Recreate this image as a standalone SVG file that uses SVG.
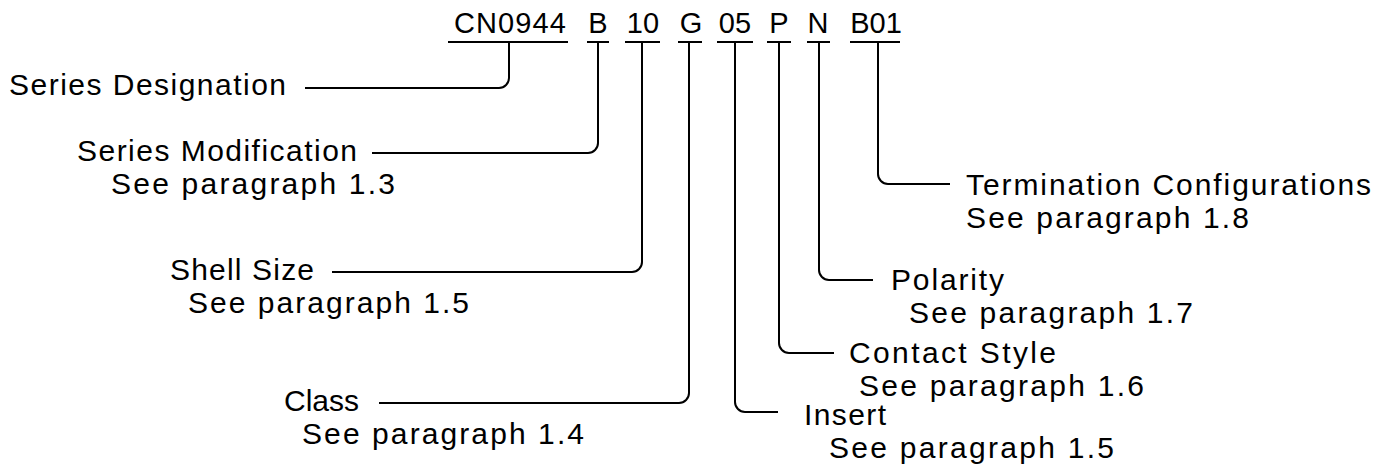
<svg xmlns="http://www.w3.org/2000/svg" width="1386" height="469" viewBox="0 0 1386 469">
<style>
text{font-family:"Liberation Sans",Arial,sans-serif;font-size:30px;fill:#000}
.top{font-size:29px}
.c{text-anchor:middle}
.ln{fill:none;stroke:#000;stroke-width:2;stroke-linecap:butt}
</style>
<rect width="1386" height="469" fill="#fff"/>
<g id="code">
<text class="top" x="454" y="33" textLength="112" lengthAdjust="spacing">CN0944</text>
<text class="top c" x="598" y="33">B</text>
<text class="top c" x="643" y="33">10</text>
<text class="top c" x="691" y="33">G</text>
<text class="top c" x="735" y="33">05</text>
<text class="top c" x="779" y="33">P</text>
<text class="top c" x="818" y="33">N</text>
<text class="top c" x="876" y="33">B01</text>
<path class="ln" d="M448 42H568M587 42H609M625 42H660M678 42H702M717 42H753M767 42H791M807 42H830M850 42H900"/>
</g>
<g id="connectors">
<path class="ln" d="M305 88H499A10 10 0 0 0 509 78V42"/>
<path class="ln" d="M372 153H588A10 10 0 0 0 598 143V42"/>
<path class="ln" d="M332 272H632A10 10 0 0 0 642 262V42"/>
<path class="ln" d="M379 403H679A10 10 0 0 0 689 393V42"/>
<path class="ln" d="M735 42V402A10 10 0 0 0 745 412H778"/>
<path class="ln" d="M779 42V343A10 10 0 0 0 789 353H834"/>
<path class="ln" d="M819 42V270A10 10 0 0 0 829 280H873"/>
<path class="ln" d="M878 42V174A10 10 0 0 0 888 184H950"/>
</g>
<g id="series-designation">
<text x="9" y="95" textLength="277" lengthAdjust="spacing">Series Designation</text>
</g>
<g id="series-modification">
<text x="77" y="161" textLength="280" lengthAdjust="spacing">Series Modification</text>
<text x="111" y="194" textLength="284" lengthAdjust="spacing">See paragraph 1.3</text>
</g>
<g id="shell-size">
<text x="170" y="280" textLength="144" lengthAdjust="spacing">Shell Size</text>
<text x="188" y="313" textLength="281" lengthAdjust="spacing">See paragraph 1.5</text>
</g>
<g id="class">
<text x="284" y="411" textLength="75" lengthAdjust="spacing">Class</text>
<text x="302" y="444" textLength="282" lengthAdjust="spacing">See paragraph 1.4</text>
</g>
<g id="termination">
<text x="966" y="195" textLength="405" lengthAdjust="spacing">Termination Configurations</text>
<text x="966" y="228" textLength="283" lengthAdjust="spacing">See paragraph 1.8</text>
</g>
<g id="polarity">
<text x="891" y="290" textLength="113" lengthAdjust="spacing">Polarity</text>
<text x="909" y="323" textLength="284" lengthAdjust="spacing">See paragraph 1.7</text>
</g>
<g id="contact-style">
<text x="849" y="363" textLength="207" lengthAdjust="spacing">Contact Style</text>
<text x="859" y="396" textLength="285" lengthAdjust="spacing">See paragraph 1.6</text>
</g>
<g id="insert">
<text x="804" y="425" textLength="82" lengthAdjust="spacing">Insert</text>
<text x="829" y="458" textLength="285" lengthAdjust="spacing">See paragraph 1.5</text>
</g>
</svg>
